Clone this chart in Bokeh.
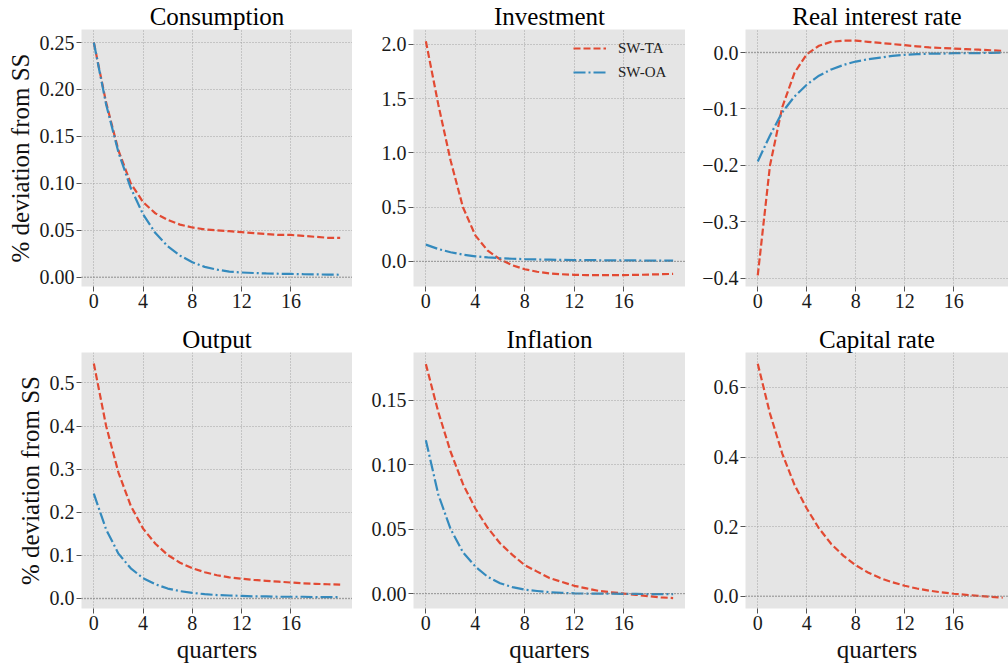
from bokeh.plotting import figure
from bokeh.models import Range1d, FixedTicker, Span, Legend, LegendItem
from bokeh.layouts import column, row
from bokeh.embed import file_html
from bokeh.resources import INLINE

quarters = list(range(21))
x_ticks = [0, 4, 8, 12, 16]

cons_ta = [0.250, 0.186, 0.135, 0.100, 0.080, 0.068, 0.061, 0.056, 0.053, 0.051, 0.050,
           0.049, 0.048, 0.047, 0.046, 0.045, 0.045, 0.044, 0.043, 0.042, 0.042]
cons_oa = [0.250, 0.184, 0.133, 0.095, 0.067, 0.047, 0.033, 0.023, 0.016, 0.011, 0.008,
           0.006, 0.005, 0.0045, 0.004, 0.0037, 0.0035, 0.0032, 0.003, 0.0028, 0.0026]
inv_ta = [2.03, 1.45, 0.93, 0.50, 0.24, 0.10, 0.02, -0.035, -0.072, -0.095, -0.110,
          -0.118, -0.123, -0.126, -0.127, -0.127, -0.126, -0.124, -0.121, -0.118, -0.115]
inv_oa = [0.155, 0.115, 0.085, 0.063, 0.047, 0.037, 0.030, 0.025, 0.021, 0.018, 0.016,
          0.014, 0.013, 0.012, 0.011, 0.010, 0.009, 0.009, 0.008, 0.008, 0.007]
rir_ta = [-0.395, -0.200, -0.097, -0.036, -0.003, 0.012, 0.019, 0.021, 0.021, 0.019, 0.017,
          0.015, 0.013, 0.011, 0.009, 0.008, 0.007, 0.006, 0.005, 0.004, 0.003]
rir_oa = [-0.193, -0.147, -0.106, -0.078, -0.057, -0.041, -0.030, -0.022, -0.016, -0.012, -0.009,
          -0.006, -0.004, -0.003, -0.002, -0.002, -0.001, -0.001, -0.001, -0.0005, -0.0003]
out_ta = [0.545, 0.400, 0.292, 0.215, 0.162, 0.127, 0.101, 0.083, 0.070, 0.061, 0.054,
          0.049, 0.046, 0.043, 0.041, 0.039, 0.037, 0.035, 0.034, 0.033, 0.032]
out_oa = [0.243, 0.160, 0.104, 0.070, 0.047, 0.033, 0.023, 0.017, 0.013, 0.010, 0.008,
          0.007, 0.006, 0.005, 0.005, 0.004, 0.004, 0.004, 0.003, 0.003, 0.003]
inf_ta = [0.178, 0.141, 0.110, 0.085, 0.066, 0.051, 0.039, 0.030, 0.022, 0.017, 0.012,
          0.009, 0.006, 0.004, 0.002, 0.001, 0.000, -0.001, -0.002, -0.003, -0.0035]
inf_oa = [0.119, 0.077, 0.050, 0.032, 0.021, 0.013, 0.008, 0.005, 0.003, 0.002, 0.001,
          0.0005, 0.0002, 0.0, 0.0, 0.0, -0.0002, -0.0003, -0.0004, -0.0005, -0.0005]
cap_ta = [0.668, 0.525, 0.410, 0.320, 0.252, 0.195, 0.150, 0.116, 0.089, 0.068, 0.052,
          0.040, 0.030, 0.022, 0.016, 0.011, 0.007, 0.004, 0.001, -0.002, -0.004]

titles = ["Consumption", "Investment", "Real interest rate", "Output", "Inflation", "Capital rate"]
series_ta = [cons_ta, inv_ta, rir_ta, out_ta, inf_ta, cap_ta]
series_oa = [cons_oa, inv_oa, rir_oa, out_oa, inf_oa, None]
y_ticks = [
    [0.0, 0.05, 0.10, 0.15, 0.20, 0.25],
    [0.0, 0.5, 1.0, 1.5, 2.0],
    [-0.4, -0.3, -0.2, -0.1, 0.0],
    [0.0, 0.1, 0.2, 0.3, 0.4, 0.5],
    [0.0, 0.05, 0.10, 0.15],
    [0.0, 0.2, 0.4, 0.6],
]
y_tick_labels = [
    ["0.00", "0.05", "0.10", "0.15", "0.20", "0.25"],
    ["0.0", "0.5", "1.0", "1.5", "2.0"],
    ["\u22120.4", "\u22120.3", "\u22120.2", "\u22120.1", "0.0"],
    ["0.0", "0.1", "0.2", "0.3", "0.4", "0.5"],
    ["0.00", "0.05", "0.10", "0.15"],
    ["0.0", "0.2", "0.4", "0.6"],
]
y_ranges = [(-0.0099, 0.2639), (-0.231, 2.138), (-0.4147, 0.0408),
            (-0.0232, 0.5705), (-0.0116, 0.187), (-0.0354, 0.7006)]

RED = "#E24A33"
BLUE = "#348ABD"
FONT = "Liberation Serif"

col_border = [81, 61, 60]
col_frame = [271, 272, 263]
col_xend = [21, 21, 20.47]
row_top = [29, 32]
row_frame = [257, 256]
row_bottom = [34, 59]

figs = []
for i in range(6):
    r, c = divmod(i, 3)
    p = figure(frame_width=col_frame[c], frame_height=row_frame[r],
               min_border_left=col_border[c], min_border_right=0,
               min_border_top=row_top[r], min_border_bottom=row_bottom[r],
               x_range=Range1d(-1, col_xend[c]), y_range=Range1d(*y_ranges[i]),
               output_backend="svg", toolbar_location=None,
               background_fill_color="#E5E5E5", border_fill_color="white",
               outline_line_color=None)
    p.title.text = titles[i]
    p.title.align = "center"
    p.title.text_font = FONT
    p.title.text_font_size = "25px"
    p.title.text_font_style = "normal"
    p.title.text_color = "black"
    p.title.standoff = 0

    p.xaxis.ticker = FixedTicker(ticks=x_ticks)
    p.yaxis.ticker = FixedTicker(ticks=y_ticks[i])
    p.yaxis.major_label_overrides = {t: s for t, s in zip(y_ticks[i], y_tick_labels[i])}
    for ax in (p.xaxis[0], p.yaxis[0]):
        ax.axis_line_color = None
        ax.major_tick_line_color = "#555555"
        ax.major_tick_out = 5
        ax.major_tick_in = 0
        ax.minor_tick_line_color = None
        ax.major_label_text_font = FONT
        ax.major_label_text_font_size = "20px"
        ax.major_label_text_color = "#1a1a1a"
        ax.major_label_standoff = 2
        ax.axis_label_text_font = FONT
        ax.axis_label_text_font_size = "25px"
        ax.axis_label_text_font_style = "normal"
        ax.axis_label_text_color = "#111111"
        ax.axis_label_standoff = 3
    if c == 0:
        p.yaxis.axis_label = "% deviation from SS"
    if r == 1:
        p.xaxis.axis_label = "quarters"
    for g in (p.xgrid[0], p.ygrid[0]):
        g.grid_line_color = "#9a9a9a"
        g.grid_line_dash = "1 2"
        g.grid_line_width = 0.9
    p.xgrid.ticker = FixedTicker(ticks=x_ticks)
    p.ygrid.ticker = FixedTicker(ticks=y_ticks[i])

    p.add_layout(Span(location=0, dimension="width", line_color="#7a7a7a",
                      line_dash="1 2", line_width=1.3))

    l1 = p.line(quarters, series_ta[i], line_color=RED, line_width=2.2, line_dash="7 3")
    l2 = None
    if series_oa[i] is not None:
        l2 = p.line(quarters, series_oa[i], line_color=BLUE, line_width=2.2, line_dash="12 3 2 3")
    if i == 1:
        leg = Legend(items=[LegendItem(label="SW-TA", renderers=[l1]),
                            LegendItem(label="SW-OA", renderers=[l2])],
                     location=(160, 204))
        leg.background_fill_alpha = 0
        leg.border_line_alpha = 0
        leg.padding = 0
        leg.margin = 0
        leg.spacing = 4
        leg.glyph_width = 33
        leg.glyph_height = 20
        leg.label_height = 20
        leg.label_standoff = 12
        leg.label_text_font = FONT
        leg.label_text_font_size = "15px"
        leg.label_text_color = "#222222"
        p.add_layout(leg, "center")
    figs.append(p)

layout = column(row(figs[0], figs[1], figs[2]), row(figs[3], figs[4], figs[5]))
open("out.html", "w").write(file_html(layout, INLINE))
